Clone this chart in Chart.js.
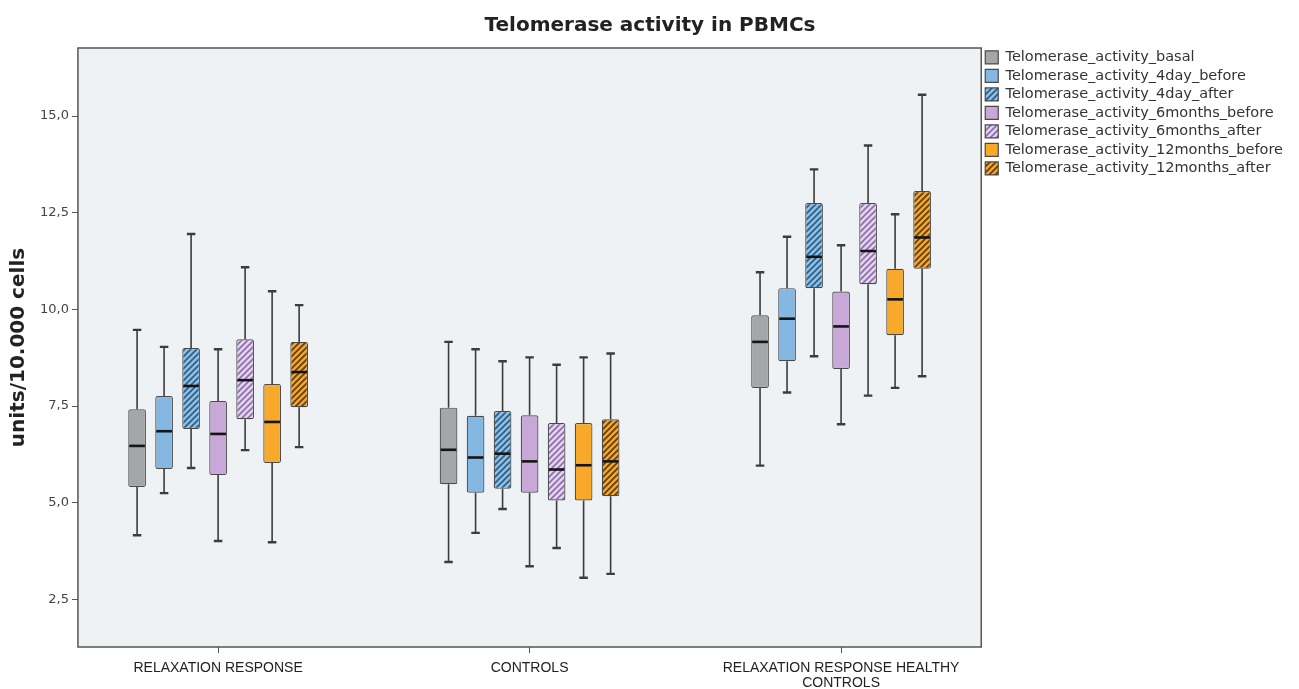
<!DOCTYPE html>
<html><head><meta charset="utf-8">
<script src="https://cdn.jsdelivr.net/npm/chart.js@4/dist/chart.umd.min.js"></script>
<style>html,body{margin:0;padding:0;background:#fff;}#wrap{width:1299px;height:689px;position:relative;}</style>
</head><body><div id="wrap"><canvas id="c"></canvas></div>
<script>
const categories = [['RELAXATION RESPONSE'], ['CONTROLS'], ['RELAXATION RESPONSE HEALTHY', 'CONTROLS']];
const seriesNames = ['Telomerase_activity_basal','Telomerase_activity_4day_before','Telomerase_activity_4day_after','Telomerase_activity_6months_before','Telomerase_activity_6months_after','Telomerase_activity_12months_before','Telomerase_activity_12months_after'];
// each row: [min, q1, median, q3, max] for one category
const basal          = [[4.16,5.41,6.47,7.42,9.47],[3.47,5.48,6.37,7.46,9.16],[5.96,7.97,9.16,9.85,10.96]];
const day4Before     = [[5.25,5.87,6.85,7.76,9.03],[4.22,5.26,6.17,7.25,8.97],[7.85,8.66,9.76,10.55,11.88]];
const day4After      = [[5.90,6.91,8.02,9.00,11.95],[4.84,5.36,6.27,7.37,8.66],[8.79,10.55,11.36,12.75,13.62]];
const months6Before  = [[4.01,5.72,6.78,7.63,8.97],[3.36,5.26,6.07,7.26,8.76],[7.03,8.46,9.56,10.46,11.66]];
const months6After   = [[6.36,7.16,8.17,9.23,11.09],[3.83,5.06,5.86,7.06,8.57],[7.77,10.65,11.51,12.75,14.24]];
const months12Before = [[3.98,6.03,7.09,8.07,10.47],[3.06,5.06,5.97,7.06,8.76],[7.97,9.33,10.26,11.05,12.46]];
const months12After  = [[6.44,7.47,8.38,9.16,10.11],[3.16,5.17,6.07,7.16,8.86],[8.27,11.05,11.86,13.06,15.55]];
const yTicks = [2.5, 5.0, 7.5, 10.0, 12.5, 15.0];

const allSeries = [basal, day4Before, day4After, months6Before, months6After, months12Before, months12After];
const baseColors = ['#a4a6a8','#84b8e2','#8cbfe6','#c8a8d9','#e4d3ef','#f9a929','#f5a52b'];
const stripeColors = [null, null, '#2d5a80', null, '#8a6ca6', null, '#5e3c0c'];

function hatch(base, stripe){
  const s = 6, c = document.createElement('canvas');
  c.width = s; c.height = s;
  const g = c.getContext('2d');
  g.fillStyle = base; g.fillRect(0,0,s,s);
  g.strokeStyle = stripe; g.lineWidth = 1.6;
  g.beginPath();
  g.moveTo(-1, s+1); g.lineTo(s+1, -1);
  g.moveTo(-1, 1); g.lineTo(1, -1);
  g.moveTo(s-1, s+1); g.lineTo(s+1, s-1);
  g.stroke();
  return g.createPattern(c, 'repeat');
}

const datasets = allSeries.map((ser, k) => ({
  label: seriesNames[k],
  data: ser.map((s, i) => ({x: i, y: [s[1], s[3]]})),
  stats: ser,
  backgroundColor: stripeColors[k] ? hatch(baseColors[k], stripeColors[k]) : baseColors[k],
  borderColor: '#4a4a4a',
  borderWidth: 1.2,
  borderSkipped: false,
  borderRadius: 2,
  categoryPercentage: 0.607,
  barPercentage: 0.655
}));

const boxPlugin = {
  id: 'boxes',
  beforeDraw(chart){
    const {ctx, chartArea: a} = chart;
    ctx.save(); ctx.fillStyle = '#eef2f5';
    ctx.fillRect(a.left, a.top, a.right - a.left, a.bottom - a.top);
    ctx.restore();
  },
  afterDatasetsDraw(chart){
    const ctx = chart.ctx, y = chart.scales.y;
    ctx.save();
    chart.data.datasets.forEach((ds, di) => {
      chart.getDatasetMeta(di).data.forEach((bar, i) => {
        const s = ds.stats[i];
        const x = bar.x, w = bar.width;
        const p = s.map(v => y.getPixelForValue(v));
        ctx.strokeStyle = '#3c3c3c'; ctx.lineWidth = 1.6;
        ctx.beginPath();
        ctx.moveTo(x, p[3]); ctx.lineTo(x, p[4]);
        ctx.moveTo(x, p[1]); ctx.lineTo(x, p[0]);
        ctx.stroke();
        const cw = w * 0.24;
        ctx.lineWidth = 2.4;
        ctx.beginPath();
        ctx.moveTo(x - cw, p[4]); ctx.lineTo(x + cw, p[4]);
        ctx.moveTo(x - cw, p[0]); ctx.lineTo(x + cw, p[0]);
        ctx.stroke();
        ctx.strokeStyle = '#151515'; ctx.lineWidth = 2.6;
        ctx.beginPath();
        ctx.moveTo(x - w/2 + 1, p[2]); ctx.lineTo(x + w/2 - 1, p[2]);
        ctx.stroke();
      });
    });
    ctx.restore();
  },
  afterDraw(chart){
    const {ctx, chartArea: a} = chart;
    ctx.save(); ctx.strokeStyle = '#555'; ctx.lineWidth = 1.5;
    ctx.strokeRect(a.left, a.top, a.right - a.left, a.bottom - a.top);
    ctx.restore();
  }
};

new Chart(document.getElementById('c'), {
  type: 'bar',
  data: { datasets },
  plugins: [boxPlugin],
  options: {
    responsive: true, maintainAspectRatio: false, animation: false,
    layout: { padding: { left: 7, right: 6, top: 0, bottom: 0 } },
    plugins: {
      tooltip: { enabled: false },
      title: { display: true, text: 'Telomerase activity in PBMCs', color: '#222',
        font: { family: 'DejaVu Sans', size: 20, weight: 'bold' }, padding: { top: 14, bottom: 10 } },
      legend: { position: 'right', align: 'start',
        title: { display: true, text: ' ', font: { size: 1 }, padding: { top: 45, bottom: 0 } },
        labels: { boxWidth: 13, boxHeight: 13, padding: 4, color: '#333',
          font: { family: 'DejaVu Sans', size: 14.5 } } }
    },
    scales: {
      x: { type: 'linear', min: -0.45, max: 2.45, offset: false,
        afterBuildTicks: s => { s.ticks = categories.map((c, i) => ({ value: i })); },
        afterFit: s => { s.height = 42; },
        ticks: { stepSize: 1, includeBounds: false, autoSkip: false, maxRotation: 0, padding: 7,
          color: '#222', font: { family: 'Liberation Sans', size: 14, lineHeight: 1.1 },
          callback: v => categories[v] },
        grid: { drawOnChartArea: false, drawTicks: true, tickLength: 6, color: '#555', offset: false },
        border: { display: false } },
      y: { min: 1.27, max: 16.76,
        afterBuildTicks: s => { s.ticks = yTicks.map(v => ({ value: v })); },
        ticks: { includeBounds: false, padding: 3, color: '#444',
          font: { family: 'DejaVu Sans', size: 13 },
          callback: v => v.toFixed(1).replace('.', ',') },
        grid: { drawOnChartArea: false, drawTicks: true, tickLength: 6, color: '#555' },
        border: { display: false },
        title: { display: true, text: 'units/10.000 cells', color: '#222',
          font: { family: 'DejaVu Sans', size: 20, weight: 'bold' }, padding: { top: 0, bottom: 6 } } }
    }
  }
});
</script></body></html>
